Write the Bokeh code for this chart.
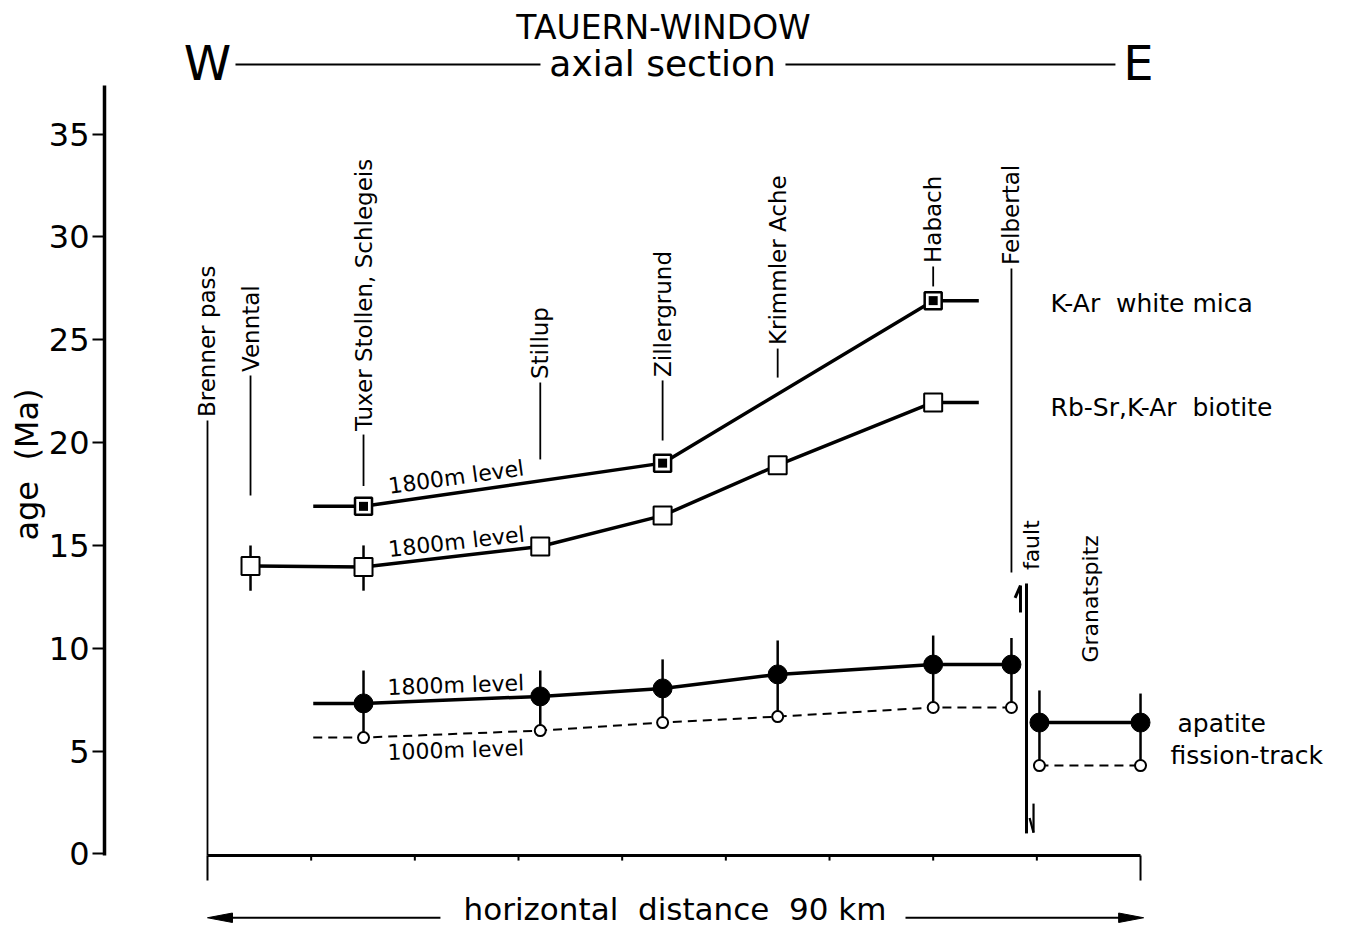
import math
from bokeh.plotting import figure
from bokeh.models import Range1d, LinearAxis, FixedTicker
from bokeh.core.properties import value
from bokeh.embed import file_html
from bokeh.resources import INLINE

FONT = value("DejaVu Sans")
SP2 = "\u00a0\u00a0"   # a visible double space

# ---------------- data ----------------
place_names = ["Brenner pass", "Venntal", "Tuxer Stollen, Schlegeis", "Stillup",
               "Zillergrund", "Krimmler Ache", "Habach", "Felbertal"]
place_km = [0.0, 4.15, 15.05, 32.1, 43.9, 55.0, 70.0, 77.55]

# K-Ar white mica (1800 m level)
mica_km = [15.05, 43.9, 70.0]
mica_age = [16.9, 19.0, 26.9]

# Rb-Sr, K-Ar biotite (1800 m level)
bio_km = [4.15, 15.05, 32.1, 43.9, 55.0, 70.0]
bio_age = [14.0, 13.95, 14.95, 16.45, 18.9, 21.95]
bio_err_km = [4.15, 15.05]
bio_err_lo = [12.8, 12.8]
bio_err_hi = [15.0, 15.0]

# apatite fission-track, west of the fault
apa_km = [15.05, 32.1, 43.9, 55.0, 70.0, 77.55]
apa1800_age = [7.32, 7.66, 8.05, 8.73, 9.21, 9.21]
apa1800_err_hi = [8.92, 8.92, 9.46, 10.38, 10.62, 10.5]
apa1000_age = [5.66, 6.0, 6.39, 6.68, 7.12, 7.12]

# apatite fission-track, Granatspitz (east of the fault)
gran_km = [80.25, 90.0]
gran1800_age = [6.39, 6.39]
gran1800_err_hi = [7.95, 7.8]
gran1000_age = [4.30, 4.30]

level_start_km = 10.2     # western end of the level lines
level_end_km = 74.4       # eastern end of the mica/biotite lines
fault_km = 79.0
x_ticks_km = [0, 10, 20, 30, 40, 50, 60, 70, 80, 90]
y_ticks = [0, 5, 10, 15, 20, 25, 30, 35]

# ---------------- figure ----------------
p = figure(width=1340, height=928, output_backend="svg", toolbar_location=None,
           x_range=Range1d(-9.935, 109.29), y_range=Range1d(-3.622, 41.49),
           x_axis_location=None, y_axis_location=None,
           min_border_left=104, min_border_right=0, min_border_top=0, min_border_bottom=0)
p.outline_line_color = None
p.grid.visible = False
p.background_fill_color = "white"
p.border_fill_color = "white"

yaxis = LinearAxis(ticker=FixedTicker(ticks=y_ticks), bounds=(-0.06, 37.35),
                   axis_line_width=3.5, axis_line_color="black",
                   major_tick_line_width=2, major_tick_line_color="black",
                   major_tick_out=12, major_tick_in=0,
                   minor_tick_out=0, minor_tick_in=0,
                   major_label_standoff=3,
                   major_label_text_font="DejaVu Sans", major_label_text_font_size="32px",
                   major_label_text_color="black",
                   axis_label="age" + SP2 + "(Ma)", axis_label_text_font="DejaVu Sans",
                   axis_label_text_font_size="32px", axis_label_text_font_style="normal",
                   axis_label_text_color="black", axis_label_standoff=0)
p.add_layout(yaxis, "left")

# horizontal distance axis
ax_y = -0.073
p.segment(x0=[x_ticks_km[0]], y0=[ax_y], x1=[x_ticks_km[-1]], y1=[ax_y], line_width=3, color="black")
inner = x_ticks_km[1:-1]
p.segment(x0=inner, y0=[ax_y] * len(inner), x1=inner, y1=[-0.32] * len(inner), line_width=2, color="black")
ends = [x_ticks_km[0], x_ticks_km[-1]]
p.segment(x0=ends, y0=[ax_y] * 2, x1=ends, y1=[-1.29] * 2, line_width=2, color="black")

# bottom arrow + caption
arr_y = -3.10
p.segment(x0=[2.0, 67.33], y0=[arr_y] * 2, x1=[22.47, 88.3], y1=[arr_y] * 2, line_width=2, color="black")
hl, hw = 2.41, 0.23
p.patches(xs=[[0, hl, hl], [90.3, 90.3 - hl, 90.3 - hl]],
          ys=[[arr_y, arr_y + hw, arr_y - hw], [arr_y, arr_y + hw, arr_y - hw]],
          fill_color="black", line_color="black")
p.text(x=[45.1], y=[-2.68], text=["horizontal" + SP2 + "distance" + SP2 + "90 km"], text_font=FONT,
       text_font_size="31px", text_align="center", text_baseline="middle", text_color="black")

# title
p.text(x=[43.99], y=[40.20], text=["TAUERN-WINDOW"], text_font=FONT, text_font_size="33px",
       text_align="center", text_baseline="middle", text_color="black")
p.text(x=[43.9], y=[38.45], text=["axial section"], text_font=FONT, text_font_size="36px",
       text_align="center", text_baseline="middle", text_color="black")
p.text(x=[0.0, 89.8], y=[38.45, 38.45], text=["W", "E"], text_font=FONT, text_font_size="48px",
       text_align="center", text_baseline="middle", text_color="black")
p.segment(x0=[2.7, 55.75], y0=[38.38] * 2, x1=[32.12, 87.58], y1=[38.38] * 2, line_width=1.8, color="black")

# location leader lines and labels
lead_top = [21.07, 23.26, 20.39, 22.92, 23.02, 24.57, 28.56, 28.46]
lead_bot = [-0.07, 17.43, 17.89, 19.18, 20.10, 23.16, 27.59, 13.68]
p.segment(x0=place_km, y0=lead_bot, x1=place_km, y1=lead_top, line_width=1.8, color="black")
lab_y = [t + 0.17 for t in lead_top]
p.text(x=place_km, y=lab_y, text=place_names, angle=math.pi / 2, text_font=FONT,
       text_font_size="23px", text_align="left", text_baseline="middle", text_color="black")
p.text(x=[79.48, 85.18], y=[13.80, 9.31], text=["fault", "Granatspitz"], angle=math.pi / 2,
       text_font=FONT, text_font_size="22px", text_align="left", text_baseline="middle",
       text_color="black")

# fault with movement arrows
p.segment(x0=[fault_km], y0=[1.0], x1=[fault_km], y1=[13.15], line_width=3, color="black")
p.segment(x0=[78.42, 78.42], y0=[11.74, 13.05], x1=[78.42, 77.90], y1=[13.05, 12.45],
          line_width=3, color="black")
p.segment(x0=[79.68, 79.68], y0=[2.45, 1.04], x1=[79.68, 79.30], y1=[1.04, 1.75],
          line_width=2.2, color="black")

# ---------- series lines ----------
mica_x = [level_start_km] + mica_km + [level_end_km]
mica_y = [mica_age[0]] + mica_age + [mica_age[-1]]
p.line(mica_x, mica_y, line_width=3.5, color="black")

bio_x = bio_km + [level_end_km]
bio_y = bio_age + [bio_age[-1]]
p.line(bio_x, bio_y, line_width=3.5, color="black")

apa_x = [level_start_km] + apa_km
p.line(apa_x, [apa1800_age[0]] + apa1800_age, line_width=3.5, color="black")
p.line(apa_x, [apa1000_age[0]] + apa1000_age, line_width=2, color="black", line_dash="9 6")
p.line(gran_km, gran1800_age, line_width=3.5, color="black")
p.line(gran_km, gran1000_age, line_width=2, color="black", line_dash="9 6")

# error bars
p.segment(x0=bio_err_km, y0=bio_err_lo, x1=bio_err_km, y1=bio_err_hi, line_width=2.5, color="black")
p.segment(x0=apa_km, y0=apa1000_age, x1=apa_km, y1=apa1800_err_hi, line_width=2.5, color="black")
p.segment(x0=gran_km, y0=gran1000_age, x1=gran_km, y1=gran1800_err_hi, line_width=2.5, color="black")

# markers
p.scatter(mica_km, mica_age, marker="square", size=17, fill_color="white", line_color="black", line_width=2.5)
p.scatter(mica_km, mica_age, marker="square", size=9, fill_color="black", line_color=None)
p.scatter(bio_km, bio_age, marker="square", size=18, fill_color="white", line_color="black", line_width=2)
p.scatter(apa_km + gran_km, apa1800_age + gran1800_age, marker="circle", size=19,
          fill_color="black", line_color="black")
p.scatter(apa_km + gran_km, apa1000_age + gran1000_age, marker="circle", size=11,
          fill_color="white", line_color="black", line_width=2)

# level labels
p.text(x=[17.46, 17.46, 17.36], y=[17.87, 14.80, 8.09], text=["1800m level"] * 3,
       angle=[math.radians(7.8), math.radians(6.5), math.radians(2.0)],
       text_font=FONT, text_font_size="22px", text_align="left", text_baseline="middle",
       text_color="black")
p.text(x=[17.36], y=[4.93], text=["1000m level"], angle=math.radians(2.0),
       text_font=FONT, text_font_size="22px", text_align="left", text_baseline="middle",
       text_color="black")

# right-hand legend texts
p.text(x=[81.32, 81.32], y=[26.76, 21.71],
       text=["K-Ar" + SP2 + "white mica", "Rb-Sr,K-Ar" + SP2 + "biotite"],
       text_font=FONT, text_font_size="25px", text_align="left", text_baseline="middle",
       text_color="black")
p.text(x=[93.57, 92.89], y=[6.34, 4.81], text=["apatite", "fission-track"],
       text_font=FONT, text_font_size="25px", text_align="left", text_baseline="middle",
       text_color="black")

open("out.html", "w").write(file_html(p, INLINE))
